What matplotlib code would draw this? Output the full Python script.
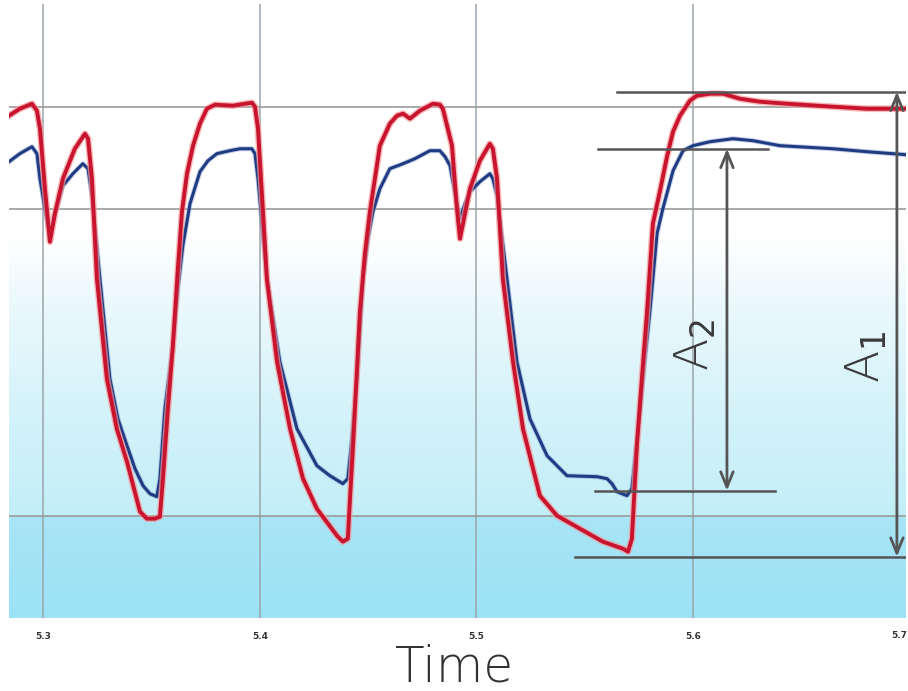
import numpy as np
import matplotlib
matplotlib.use("Agg")
import matplotlib.pyplot as plt
from matplotlib.colors import LinearSegmentedColormap

# ---- data (time in s, signal in arbitrary units) ----
red_t = [5.2841, 5.2891, 5.2947, 5.2970, 5.2984, 5.3007, 5.3030, 5.3053, 5.3090, 5.3145,
         5.3192, 5.3206, 5.3224, 5.3247, 5.3293, 5.3339, 5.3386, 5.3446, 5.3478, 5.3515,
         5.3538, 5.3552, 5.3575, 5.3598, 5.3621, 5.3640, 5.3663, 5.3691, 5.3723, 5.3755,
         5.3792, 5.3875, 5.3931, 5.3963, 5.3977, 5.3991, 5.4014, 5.4032, 5.4079, 5.4139,
         5.4199, 5.4263, 5.4356, 5.4383, 5.4406, 5.4416, 5.4430, 5.4462, 5.4485, 5.4508,
         5.4554, 5.4600, 5.4633, 5.4661, 5.4693, 5.4739, 5.4799, 5.4831, 5.4845, 5.4887,
         5.4910, 5.4924, 5.4947, 5.4970, 5.5016, 5.5062, 5.5076, 5.5095, 5.5122, 5.5169,
         5.5215, 5.5293, 5.5372, 5.5478, 5.5584, 5.5677, 5.5700, 5.5718, 5.5741, 5.5764,
         5.5788, 5.5815, 5.5848, 5.5880, 5.5908, 5.5940, 5.5986, 5.6018, 5.6079, 5.6139,
         5.6217, 5.6309, 5.6434, 5.6647, 5.6804, 5.6984]
red_v = [4.910, 4.978, 5.027, 4.959, 4.783, 4.196, 3.678, 3.952, 4.294, 4.587,
         4.734, 4.685, 4.294, 3.317, 2.339, 1.850, 1.528, 1.039, 0.971, 0.971,
         0.990, 1.362, 2.046, 2.662, 3.414, 3.972, 4.343, 4.617, 4.832, 4.978,
         5.018, 5.008, 5.027, 5.037, 4.998, 4.783, 3.972, 3.317, 2.505, 1.850,
         1.362, 1.068, 0.804, 0.746, 0.775, 1.166, 1.684, 2.994, 3.561, 3.972,
         4.617, 4.832, 4.910, 4.930, 4.881, 4.959, 5.027, 5.018, 4.978, 4.617,
         4.001, 3.708, 3.952, 4.196, 4.470, 4.636, 4.587, 4.294, 3.317, 2.505,
         1.850, 1.196, 1.000, 0.873, 0.746, 0.677, 0.648, 0.775, 1.684, 2.339,
         2.994, 3.854, 4.177, 4.509, 4.754, 4.910, 5.057, 5.106, 5.125, 5.125,
         5.076, 5.047, 5.027, 4.998, 4.978, 4.978]

blue_t = [5.2841, 5.2891, 5.2947, 5.2970, 5.2984, 5.3007, 5.3030, 5.3053, 5.3090, 5.3136,
          5.3182, 5.3206, 5.3224, 5.3261, 5.3307, 5.3344, 5.3386, 5.3423, 5.3460, 5.3492,
          5.3524, 5.3538, 5.3561, 5.3598, 5.3621, 5.3644, 5.3677, 5.3723, 5.3760, 5.3801,
          5.3861, 5.3908, 5.3963, 5.3977, 5.3991, 5.4032, 5.4092, 5.4171, 5.4263, 5.4323,
          5.4383, 5.4406, 5.4425, 5.4448, 5.4476, 5.4499, 5.4522, 5.4554, 5.4600, 5.4661,
          5.4716, 5.4785, 5.4831, 5.4855, 5.4878, 5.4901, 5.4924, 5.4947, 5.4970, 5.5016,
          5.5062, 5.5076, 5.5095, 5.5141, 5.5187, 5.5247, 5.5326, 5.5418, 5.5557, 5.5603,
          5.5626, 5.5649, 5.5695, 5.5718, 5.5737, 5.5755, 5.5778, 5.5801, 5.5834, 5.5861,
          5.5908, 5.5954, 5.6000, 5.6079, 5.6185, 5.6277, 5.6402, 5.6647, 5.6804, 5.6984]
blue_v = [4.460, 4.539, 4.607, 4.539, 4.294, 4.001, 3.737, 3.952, 4.226, 4.343,
          4.441, 4.392, 4.128, 3.317, 2.339, 1.948, 1.684, 1.459, 1.293, 1.215,
          1.186, 1.362, 2.046, 2.662, 3.219, 3.639, 4.050, 4.363, 4.470, 4.539,
          4.568, 4.587, 4.587, 4.539, 4.294, 3.317, 2.505, 1.850, 1.489, 1.391,
          1.313, 1.362, 1.753, 2.339, 3.317, 3.708, 3.972, 4.196, 4.392, 4.441,
          4.490, 4.568, 4.568, 4.509, 4.421, 4.148, 3.903, 4.050, 4.167, 4.265,
          4.343, 4.294, 4.128, 3.317, 2.505, 1.948, 1.587, 1.391, 1.381, 1.362,
          1.313, 1.235, 1.196, 1.264, 1.655, 2.017, 2.535, 2.994, 3.757, 4.001,
          4.372, 4.568, 4.617, 4.656, 4.685, 4.666, 4.617, 4.587, 4.558, 4.529]

x_ticks = [5.3, 5.4, 5.5, 5.6]
x_tick_labels = ["5.3", "5.4", "5.5", "5.6"]
edge_tick_label = "5.7"
h_grid = [1.0, 4.0, 5.0]

# amplitude markers
a1_top, a1_bottom, a1_x = 5.145, 0.599, 5.6942
a2_top, a2_bottom, a2_x = 4.587, 1.244, 5.6157

XMIN, XMAX = 5.2841, 5.6984
YMIN, YMAX = 0.0, 6.0

fig = plt.figure(figsize=(9.08, 6.91), dpi=100)
ax = fig.add_axes([9/908, 73/691, 897/908, 613.8/691])
ax.set_xlim(XMIN, XMAX)
ax.set_ylim(YMIN, YMAX)

# background gradient (white top -> light cyan bottom)
stops = [(0.0, (156/255, 226/255, 245/255)),
         (0.162, (168/255, 229/255, 246/255)),
         (0.164, (194/255, 238/255, 248/255)),
         (0.35, (214/255, 243/255, 250/255)),
         (0.52, (236/255, 249/255, 253/255)),
         (0.62, (255/255, 255/255, 255/255)),
         (1.0, (255/255, 255/255, 255/255))]
cmap = LinearSegmentedColormap.from_list("bg", stops)
grad = np.linspace(0, 1, 600).reshape(-1, 1)
ax.imshow(grad, cmap=cmap, origin="lower", aspect="auto",
          extent=[XMIN, XMAX, YMIN, YMAX], zorder=0, interpolation="bilinear")

for gx in x_ticks:
    ax.axvline(gx, color="#9aa5ab", lw=1.1, zorder=1)
for gy in h_grid:
    ax.axhline(gy, color="#9a9a9a", lw=1.4, alpha=0.85, zorder=1)

# traces
ax.plot(blue_t, blue_v, color="#8aa0d0", lw=3.6, alpha=0.5, zorder=2, solid_joinstyle="round")
ax.plot(blue_t, blue_v, color="#1f3c82", lw=2.2, zorder=3, solid_joinstyle="round")
ax.plot(red_t, red_v, color="#f49a9a", lw=4.8, alpha=0.7, zorder=4, solid_joinstyle="round")
ax.plot(red_t, red_v, color="#c8142e", lw=2.8, zorder=5, solid_joinstyle="round")

# amplitude guide lines
gcol = "#555555"
ax.plot([5.5649, XMAX], [a1_top, a1_top], color=gcol, lw=1.8, zorder=6)
ax.plot([5.5455, XMAX], [a1_bottom, a1_bottom], color=gcol, lw=1.8, zorder=6)
ax.plot([5.5561, 5.6346], [a2_top, a2_top], color=gcol, lw=1.8, zorder=6)
ax.plot([5.5547, 5.6379], [a2_bottom, a2_bottom], color=gcol, lw=1.8, zorder=6)

arrow_kw = dict(arrowstyle="<->,head_length=1.1,head_width=0.45", color=gcol, lw=2.0,
                shrinkA=0, shrinkB=0)
ax.annotate("", xy=(a2_x, a2_top), xytext=(a2_x, a2_bottom), arrowprops=arrow_kw, zorder=7)
ax.annotate("", xy=(a1_x, a1_top), xytext=(a1_x, a1_bottom), arrowprops=arrow_kw, zorder=7)

ax.text(5.6010, 2.67, r"A$_2$", rotation=90, ha="center", va="center",
        fontsize=34, color="#3a3a3a", family="DejaVu Sans", weight="light", zorder=8)
ax.text(5.6800, 2.55, r"A$_1$", rotation=90, ha="center", va="center",
        fontsize=34, color="#3a3a3a", family="DejaVu Sans", weight="light", zorder=8)

# axes styling
for s in ax.spines.values():
    s.set_visible(False)
ax.set_yticks([])
ax.set_xticks(x_ticks)
ax.set_xticklabels(x_tick_labels, fontsize=6.5, fontweight="bold", color="#333333")
ax.tick_params(axis="x", length=0, pad=10)
fig.text(907/908, 1 - 636/691, edge_tick_label, ha="right", va="center",
         fontsize=6.5, fontweight="bold", color="#333333")

fig.text(455/908, 1 - 667/691, "Time", ha="center", va="center", fontsize=35,
         color="#333333", family="DejaVu Sans", weight="light")

fig.savefig("out.png", dpi=100)
